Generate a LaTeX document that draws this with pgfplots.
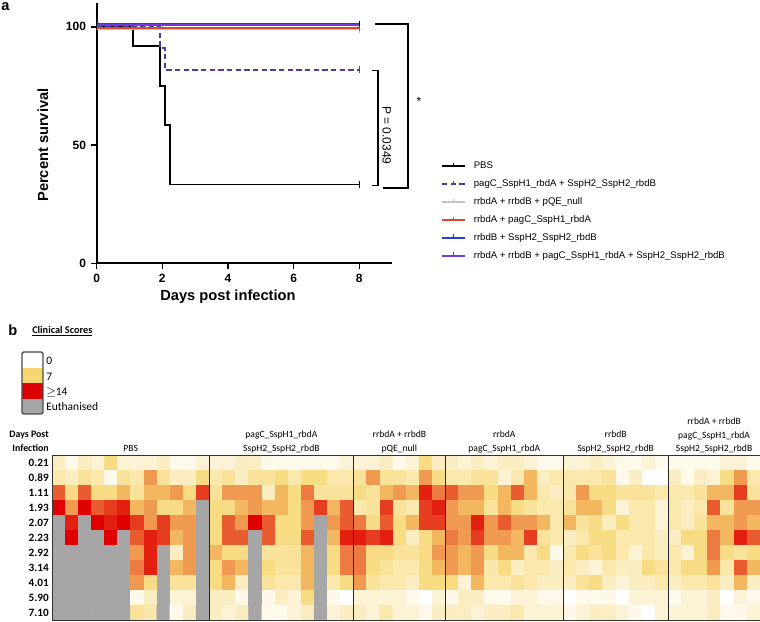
\documentclass[border=0pt]{standalone}
\usepackage{pgfplots}
\pgfplotsset{compat=1.18}
\usepackage{fontspec}
\setmainfont{Liberation Sans}
\newfontfamily\carlito{Carlito}
\definecolor{cdash}{RGB}{85,55,160}
\definecolor{cgray}{RGB}{195,195,195}
\definecolor{cred}{RGB}{215,75,45}
\definecolor{cblue}{RGB}{40,60,210}
\definecolor{cpurple}{RGB}{110,60,220}
\definecolor{hmyellow}{RGB}{246,214,112}
\definecolor{hmred}{RGB}{222,0,0}
\definecolor{hmgray}{RGB}{166,166,166}
\begin{document}
\begin{tikzpicture}
\useasboundingbox (0,0) rectangle (570pt,-465.75pt);
% ---------------- survival plot ----------------
\begin{axis}[
 at={(72.5pt,-197.5pt)}, anchor=south west,
 scale only axis, width=221.6pt, height=195.2pt,
 xmin=0, xmax=9, ymin=0, ymax=110,
 axis lines=left, axis line style={-, line width=1.5pt},
 xtick={0,2,4,6,8}, ytick={0,50,100},
 tick align=outside, major tick length=4.5pt,
 tick style={line width=1.2pt, black},
 ticklabel style={font=\bfseries\fontsize{9}{10}\selectfont},
 /pgf/number format/assume math mode=true,
 clip=false,
 xlabel={Days post infection}, ylabel={Percent survival},
 label style={font=\bfseries\fontsize{11}{12}\selectfont},
 xlabel style={at={(axis cs:4,-14.2)}, anchor=center},
 ylabel style={at={(axis cs:-1.636,50)}, anchor=center},
 legend cell align=left,
 legend style={at={(rel axis cs:1.165,0.400)}, anchor=north west, draw=none, fill=none,
   inner sep=0pt, font=\fontsize{7.2}{8.6}\selectfont, row sep=3.1pt, column sep=4.5pt,
   nodes={inner sep=1.5pt, text height=5.5pt, text depth=1.8pt}},
 legend image code/.code={\draw[#1] (0cm,0cm) -- (0.6cm,0cm); \draw[#1, solid] (0.3cm,0pt) -- (0.3cm,2.5pt);},
]
\addplot[black, line width=1.45pt, const plot] coordinates {(0,100) (1.11,91.67) (1.93,75) (2.07,58.33) (2.23,33.33) (8,33.33)};
\addlegendentry{PBS}
\addplot[cdash, line width=1.45pt, dash pattern=on 4pt off 2.5pt, const plot] coordinates {(0,100) (1.93,90.91) (2.07,81.82) (8,81.82)};
\addlegendentry{pagC\_SspH1\_rbdA + SspH2\_SspH2\_rbdB}
\addplot[cgray, line width=1.3pt] coordinates {(0,98.8) (8,98.8)};
\addlegendentry{rrbdA + rrbdB + pQE\_null}
\addplot[cred, line width=1.3pt] coordinates {(0,99.4) (8,99.4)};
\addlegendentry{rrbdA + pagC\_SspH1\_rbdA}
\addplot[cblue, line width=1.3pt] coordinates {(0,101.2) (8,101.2)};
\addlegendentry{rrbdB + SspH2\_SspH2\_rbdB}
\addplot[cpurple, line width=1.3pt] coordinates {(0,100.6) (8,100.6)};
\addlegendentry{rrbdA + rrbdB + pagC\_SspH1\_rbdA + SspH2\_SspH2\_rbdB}
% censor ticks
\addplot[forget plot, black, only marks, mark=|, mark size=2.5pt, mark options={line width=1.2pt}] coordinates {(8,33.33)};
\addplot[forget plot, cdash, only marks, mark=|, mark size=2.5pt, mark options={line width=1.2pt}] coordinates {(8,81.82)};
\addplot[forget plot, cgray, only marks, mark=|, mark size=2.5pt, mark options={line width=1.2pt}] coordinates {(8,98.8)};
\addplot[forget plot, cred, only marks, mark=|, mark size=2.5pt, mark options={line width=1.2pt}] coordinates {(8,99.4)};
\addplot[forget plot, cpurple, only marks, mark=|, mark size=2.5pt, mark options={line width=1.2pt}] coordinates {(8,100.6)};
\addplot[forget plot, black, only marks, mark=|, mark size=2.5pt, mark options={line width=1.2pt}] coordinates {(8,101.2)};
% significance
\draw[line width=1.1pt] (axis cs:8.39,81.4) -- (axis cs:8.57,81.4) -- (axis cs:8.57,32.8) -- (axis cs:8.39,32.8);
\node[rotate=-90, font=\fontsize{9}{10}\selectfont] at (axis cs:8.84,54.1) {P = 0.0349};
\draw[line width=1.1pt] (axis cs:8.48,101.1) -- (axis cs:9.48,101.1) -- (axis cs:9.48,31.8) -- (axis cs:8.72,31.8);
\node[font=\fontsize{9}{10}\selectfont] at (axis cs:9.82,68.3) {*};
\end{axis}
% ---------------- heatmap ----------------
\begin{axis}[
 at={(39pt,-465pt)}, anchor=south west,
 scale only axis, width=531pt, height=123.75pt,
 xmin=-0.5, xmax=53.5, ymin=-0.5, ymax=10.5, y dir=reverse,
 xtick=\empty, ytick={0,1,2,3,4,5,6,7,8,9,10},
 yticklabels={0.21,0.89,1.11,1.93,2.07,2.23,2.92,3.14,4.01,5.90,7.10},
 major tick length=0pt,
 yticklabel style={font=\carlito\bfseries\fontsize{8.4}{9}\selectfont, inner sep=0pt, xshift=-2.25pt},
 colormap={heat}{rgb255(0pt)=(166,166,166) rgb255(1pt)=(166,166,166) rgb255(2pt)=(255,255,255) rgb255(9pt)=(246,214,112) rgb255(16pt)=(224,0,0)},
 point meta min=-2, point meta max=14,
 axis on top, axis line style={black!80, line width=0.6pt},
]
\addplot[matrix plot, mesh/cols=54, point meta=explicit]
 table[x expr={\coordindex-54*floor((\coordindex+0.5)/54)}, y expr={floor((\coordindex+0.5)/54)}, meta=c, row sep=\\] {
c\\
3\\1\\3\\2\\6\\2\\2\\2\\3\\1\\1\\2\\ 2\\2\\3\\3\\1\\1\\1\\1\\1\\1\\2\\ 2\\2\\3\\1\\2\\6\\3\\ 3\\2\\3\\2\\3\\3\\2\\1\\1\\ 2\\2\\3\\2\\1\\1\\2\\1\\ 1\\1\\1\\1\\2\\2\\1\\
4\\3\\5\\4\\1\\5\\4\\9\\5\\3\\3\\6\\ 4\\5\\3\\5\\5\\6\\4\\6\\6\\4\\4\\ 5\\9\\5\\5\\4\\9\\6\\ 4\\4\\5\\5\\2\\4\\8\\3\\4\\ 4\\4\\4\\5\\1\\3\\0\\0\\ 3\\1\\3\\2\\6\\9\\4\\
11\\6\\11\\6\\6\\8\\5\\8\\8\\9\\6\\12\\ 5\\9\\9\\9\\3\\8\\6\\10\\5\\5\\5\\ 6\\5\\8\\9\\8\\13\\10\\ 11\\9\\9\\6\\8\\11\\8\\4\\3\\ 4\\9\\6\\6\\5\\5\\5\\4\\ 4\\4\\5\\8\\8\\12\\5\\
14\\9\\14\\11\\12\\13\\8\\9\\6\\6\\8\\-2\\ 6\\6\\8\\9\\8\\8\\6\\9\\12\\8\\11\\ 4\\5\\12\\5\\4\\12\\13\\ 9\\8\\8\\5\\8\\6\\5\\4\\4\\ 5\\8\\8\\6\\2\\4\\4\\2\\ 4\\3\\4\\11\\5\\9\\9\\
-2\\13\\-2\\14\\13\\14\\12\\9\\12\\9\\9\\-2\\ 6\\11\\9\\14\\11\\6\\6\\9\\-2\\9\\11\\ 10\\6\\11\\6\\8\\12\\12\\ 9\\9\\13\\9\\11\\9\\9\\8\\4\\ 8\\5\\6\\3\\6\\4\\4\\2\\ 4\\3\\5\\8\\8\\9\\8\\
-2\\14\\-2\\-2\\14\\-2\\11\\13\\12\\8\\9\\-2\\ 6\\11\\11\\-2\\11\\6\\6\\11\\-2\\8\\13\\ 13\\12\\13\\6\\3\\6\\8\\ 10\\9\\12\\9\\9\\8\\12\\5\\4\\ 3\\4\\6\\6\\4\\4\\4\\3\\ 3\\6\\6\\10\\8\\13\\11\\
-2\\-2\\-2\\-2\\-2\\-2\\9\\13\\-2\\3\\9\\-2\\ 8\\6\\6\\-2\\5\\5\\5\\8\\-2\\6\\10\\ 10\\6\\6\\5\\5\\6\\9\\ 9\\8\\9\\6\\8\\8\\4\\6\\1\\ 4\\6\\5\\6\\4\\2\\4\\3\\ 4\\2\\6\\10\\6\\5\\6\\
-2\\-2\\-2\\-2\\-2\\-2\\10\\13\\-2\\8\\9\\-2\\ 6\\9\\8\\-2\\6\\5\\5\\8\\-2\\6\\10\\ 10\\6\\5\\4\\4\\6\\8\\ 9\\8\\9\\4\\6\\3\\4\\4\\3\\ 4\\3\\2\\4\\3\\3\\6\\5\\ 4\\6\\6\\9\\4\\11\\8\\
-2\\-2\\-2\\-2\\-2\\-2\\9\\6\\-2\\5\\5\\-2\\ 6\\8\\3\\-2\\5\\4\\4\\8\\-2\\4\\6\\ 9\\5\\4\\4\\3\\6\\6\\ 6\\2\\8\\4\\4\\5\\4\\3\\3\\ 3\\5\\6\\3\\2\\3\\3\\4\\ 3\\4\\4\\5\\3\\8\\3\\
-2\\-2\\-2\\-2\\-2\\-2\\1\\3\\-2\\2\\2\\-2\\ 3\\3\\1\\-2\\1\\3\\2\\6\\-2\\1\\0\\ 2\\2\\2\\2\\1\\0\\2\\ 1\\3\\3\\1\\1\\2\\2\\1\\1\\ 0\\1\\1\\1\\0\\2\\2\\2\\ 1\\2\\2\\3\\0\\2\\1\\
-2\\-2\\-2\\-2\\-2\\-2\\5\\4\\-2\\1\\3\\-2\\ 3\\2\\3\\-2\\1\\1\\2\\3\\-2\\2\\3\\ 3\\2\\4\\2\\2\\1\\3\\ 3\\3\\2\\3\\3\\4\\2\\2\\2\\ 1\\2\\3\\3\\2\\1\\0\\2\\ 2\\2\\2\\3\\1\\1\\2\\
};
\draw[black!85, line width=0.7pt] (axis cs:11.5,-0.5) -- (axis cs:11.5,10.5);
\draw[black!85, line width=0.7pt] (axis cs:22.5,-0.5) -- (axis cs:22.5,10.5);
\draw[black!85, line width=0.7pt] (axis cs:29.5,-0.5) -- (axis cs:29.5,10.5);
\draw[black!85, line width=0.7pt] (axis cs:38.5,-0.5) -- (axis cs:38.5,10.5);
\draw[black!85, line width=0.7pt] (axis cs:46.5,-0.5) -- (axis cs:46.5,10.5);
\end{axis}
% ---------------- texts in pixel units ----------------
\begin{scope}[x=0.75pt, y=-0.75pt]
\node[anchor=base west, inner sep=0pt, font=\bfseries\fontsize{11}{12}\selectfont] at (1,11) {a};
\node[anchor=base west, inner sep=0pt, font=\bfseries\fontsize{11}{12}\selectfont] at (8,335) {b};
\node[anchor=base west, inner sep=0pt, font=\carlito\bfseries\fontsize{7.7}{9}\selectfont] at (32,333) {\underline{Clinical Scores}};
% colour key
\fill[white] (22,352) rectangle (43,367.5);
\fill[hmyellow] (22,367.5) rectangle (43,383);
\fill[hmred] (22,383) rectangle (43,398.5);
\fill[hmgray] (22,398.5) rectangle (43,414);
\draw[black!70, line width=1pt, rounded corners=1.2pt] (22,352) rectangle (43,414);
\begin{scope}[every node/.style={anchor=west, inner sep=0pt, font=\carlito\fontsize{8.6}{10}\selectfont, text height=5.8pt, text depth=0.5pt}]
\node at (46,361) {0};
\node at (46,376.5) {7};
\node at (46,392) {$\geq$14};
\node at (46,407) {Euthanised};
\end{scope}
% header of heatmap
\begin{scope}[every node/.style={anchor=east, inner sep=0pt, font=\carlito\bfseries\fontsize{7.4}{9}\selectfont, text height=5.2pt, text depth=1.5pt}]
\node at (49,435) {Days Post};
\node at (49,449) {Infection};
\end{scope}
\begin{scope}[every node/.style={anchor=center, inner sep=0pt, font=\carlito\fontsize{7.2}{8}\selectfont, text height=5pt, text depth=1.5pt}]
\node at (130.7,449) {PBS};
\node at (281.4,435) {pagC\_SspH1\_rbdA};
\node at (281.4,449) {SspH2\_SspH2\_rbdB};
\node at (399.4,435) {rrbdA + rrbdB};
\node at (399.4,449) {pQE\_null};
\node at (504.3,435) {rrbdA};
\node at (504.3,449) {pagC\_SspH1\_rbdA};
\node at (615.7,435) {rrbdB};
\node at (615.7,449) {SspH2\_SspH2\_rbdB};
\node at (714.1,422.5) {rrbdA + rrbdB};
\node at (714.1,436) {pagC\_SspH1\_rbdA};
\node at (714.1,449) {SspH2\_SspH2\_rbdB};
\end{scope}
\end{scope}
\end{tikzpicture}
\end{document}
